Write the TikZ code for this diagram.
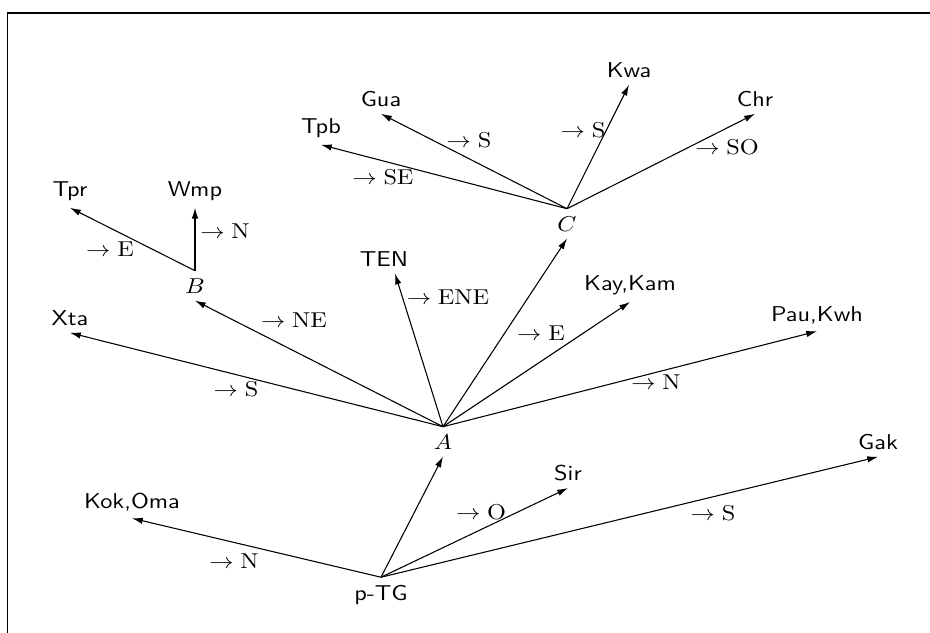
\documentclass[tikz,border=0pt]{standalone}
\usepackage{graphicx}
\usetikzlibrary{arrows.meta,calc}
\newcommand{\sx}[1]{\scalebox{1.13}[1.0]{#1}}
\begin{document}
\begin{tikzpicture}[x=0.4651pt, y=-0.4651pt,
  nl/.style={font=\sffamily, anchor=base},
  ml/.style={anchor=base},
  el/.style={inner sep=0pt, anchor=center},
  ed/.style={draw, line width=0.5pt, -{Latex[length=5pt,width=3pt]}},
  frm/.style={draw, line width=0.8pt}]
\useasboundingbox (0,0) rectangle (930,633);
\draw[frm] (7.5,640) -- (7.5,13) -- (940,13);
% nodes
\node[nl] (Tpr) at (70,196) {\sx{Tpr}};
\node[nl] (Wmp) at (195,196) {\sx{Wmp}};
\node[ml] (B) at (195,293) {\sx{$B$}};
\node[nl] (Xta) at (70,325) {\sx{Xta}};
\node[nl] (TEN) at (384,266) {\sx{TEN}};
\coordinate (TENin) at ($(TEN.south)+(11,0)$);
\node[nl] (Kay) at (630,290) {\sx{Kay,Kam}};
\node[nl] (Pau) at (817,321) {\sx{Pau,Kwh}};
\node[ml] (A) at (443,449) {\sx{$A$}};
\node[nl] (Gua) at (381,106) {\sx{Gua}};
\node[nl] (Tpb) at (321,133) {\sx{Tpb}};
\node[nl] (Kwa) at (629,77) {\sx{Kwa}};
\node[nl] (Chr) at (755,106) {\sx{Chr}};
\node[ml] (C) at (567,231) {\sx{$C$}};
\node[nl] (Kok) at (132,508) {\sx{Kok,Oma}};
\node[nl] (Sir) at (568,480) {\sx{Sir}};
\node[nl] (Gak) at (878,449) {\sx{Gak}};
\node[nl] (pTG) at (381,600) {\sx{p-TG}};
% edges
\draw[ed] (B.north) -- (Tpr.south);
\draw[ed] (B.north) -- (Wmp.south);
\draw[ed] (A.north) -- (Xta.south);
\draw[ed] (A.north) -- (B.south);
\draw[ed] (A.north) -- (TENin);
\draw[ed] (A.north) -- (C.south);
\draw[ed] (A.north) -- (Kay.south);
\draw[ed] (A.north) -- (Pau.south);
\draw[ed] (C.north) -- (Tpb.south);
\draw[ed] (C.north) -- (Gua.south);
\draw[ed] (C.north) -- (Kwa.south);
\draw[ed] (C.north) -- (Chr.south);
\draw[ed] (pTG.north) -- (Kok.south);
\draw[ed] (pTG.north) -- (A.south);
\draw[ed] (pTG.north) -- (Sir.south);
\draw[ed] (pTG.north) -- (Gak.south);
% edge labels
\node[el] (lTpr) at (110,249) {\sx{$\rightarrow\mathrm{E}$}};
\node[el] (lWmp) at (225,231) {\sx{$\rightarrow\mathrm{N}$}};
\node[el] (lB) at (294,320) {\sx{$\rightarrow\mathrm{NE}$}};
\node[el] (lXta) at (236,389) {\sx{$\rightarrow\mathrm{S}$}};
\node[el] (lTEN) at (448,297) {\sx{$\rightarrow\mathrm{ENE}$}};
\node[el] (lKay) at (541,333) {\sx{$\rightarrow\mathrm{E}$}};
\node[el] (lPau) at (656,382) {\sx{$\rightarrow\mathrm{N}$}};
\node[el] (lTpb) at (383,177) {\sx{$\rightarrow\mathrm{SE}$}};
\node[el] (lGua) at (469,140) {\sx{$\rightarrow\mathrm{S}$}};
\node[el] (lKwa) at (583,130) {\sx{$\rightarrow\mathrm{S}$}};
\node[el] (lChr) at (727,147) {\sx{$\rightarrow\mathrm{SO}$}};
\node[el] (lKok) at (234,561) {\sx{$\rightarrow\mathrm{N}$}};
\node[el] (lSir) at (481,512) {\sx{$\rightarrow\mathrm{O}$}};
\node[el] (lGak) at (713,513) {\sx{$\rightarrow\mathrm{S}$}};
\end{tikzpicture}
\end{document}
